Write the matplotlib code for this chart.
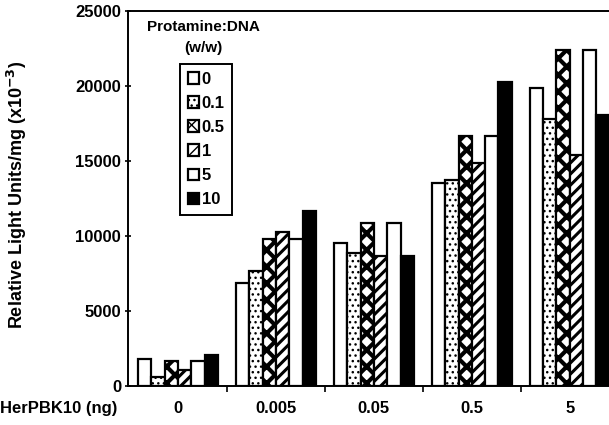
import matplotlib
matplotlib.use("Agg")
import matplotlib.pyplot as plt
import numpy as np

plt.rcParams['font.family'] = ['Liberation Sans', 'DejaVu Sans']
plt.rcParams['font.weight'] = 'bold'
plt.rcParams['axes.labelweight'] = 'bold'
plt.rcParams['mathtext.default'] = 'bf'

groups = ["0", "0.005", "0.05", "0.5", "5"]
series_labels = ["0", "0.1", "0.5", "1", "5", "10"]
values = {
    "0":   [1800, 6900, 9550, 13550, 19850],
    "0.1": [600, 7700, 8850, 13750, 17800],
    "0.5": [1650, 9800, 10850, 16650, 22400],
    "1":   [1100, 10250, 8700, 14850, 15400],
    "5":   [1650, 9800, 10850, 16650, 22400],
    "10":  [2050, 11700, 8700, 20300, 18100],
}
yticks = [0, 5000, 10000, 15000, 20000, 25000]

styles = {
    "0":   dict(facecolor="white", hatch=None, hlw=1.0),
    "0.1": dict(facecolor="white", hatch="...", hlw=1.0),
    "0.5": dict(facecolor="white", hatch="xx", hlw=3.0),
    "1":   dict(facecolor="white", hatch="///", hlw=2.2),
    "5":   dict(facecolor="white", hatch=None, hlw=1.0),
    "10":  dict(facecolor="black", hatch=None, hlw=1.0),
}

W, H = 609, 425
fig = plt.figure(figsize=(W / 100, H / 100), dpi=100)
ax = fig.add_axes([128 / W, 1 - 386 / H, 1 - 128 / W, (386 - 11) / H])

x = np.arange(len(groups))
n = len(series_labels)
bw = 0.136
handles = []
for i, s in enumerate(series_labels):
    st = styles[s]
    plt.rcParams['hatch.linewidth'] = st["hlw"]
    offs = (i - (n - 1) / 2) * bw
    bars = ax.bar(x + offs, values[s], width=bw, facecolor=st["facecolor"],
                  edgecolor="black", linewidth=1.6, hatch=st["hatch"], label=s)
    for b in bars:
        if hasattr(b, "set_hatch_linewidth"):
            b.set_hatch_linewidth(st["hlw"])
    handles.append(bars)

ax.set_xlim(-0.51, 4.40)
ax.set_ylim(0, 25000)
ax.set_yticks(yticks)
ax.set_yticklabels([str(v) for v in yticks], fontsize=12)
ax.set_xticks(x)
ax.set_xticklabels(groups, fontsize=12)
ax.set_xticks(np.arange(len(groups) - 1) + 0.5, minor=True)
ax.tick_params(axis="x", which="major", length=0, pad=11)
ax.tick_params(axis="x", which="minor", length=4, direction="out", width=1.2)
ax.tick_params(axis="y", which="major", length=4, direction="inout", width=1.2, pad=3)

for side in ["left", "bottom", "top"]:
    ax.spines[side].set_linewidth(1.4)
ax.spines["right"].set_visible(False)

ax.set_ylabel("Relative Light Units/mg (x10$^{-3}$)", fontsize=13, fontweight="bold")
ax.yaxis.set_label_coords(-0.205, 0.51)

fig.text(0 / W, 1 - 408 / H, "HerPBK10 (ng)", fontsize=12, ha="left", va="center")

fig.text(203 / W, 1 - 27 / H, "Protamine:DNA", fontsize=11, ha="center", va="center")
fig.text(203 / W, 1 - 48 / H, "(w/w)", fontsize=11, ha="center", va="center")

leg = ax.legend(handles=handles, labels=series_labels, loc="upper left",
                bbox_to_anchor=(180 / W, 1 - 64 / H), bbox_transform=fig.transFigure,
                borderaxespad=0, handlelength=0.7, handleheight=0.7, handletextpad=0.15,
                labelspacing=0.55, borderpad=0.45, fancybox=False, fontsize=12,
                framealpha=1, edgecolor="black")
leg.get_frame().set_linewidth(1.4)

fig.savefig("out.png", dpi=100)
